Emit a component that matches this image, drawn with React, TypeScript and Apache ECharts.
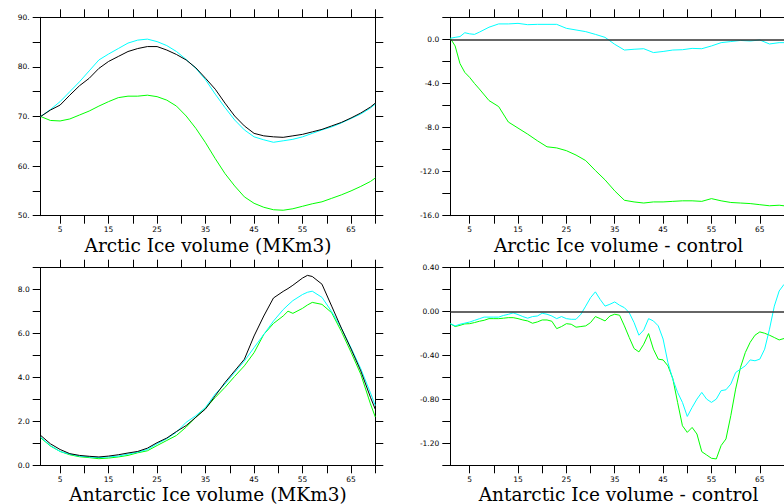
import React, { useEffect, useRef } from "react";
import * as echarts from "echarts";

// ---------- data ----------
const xTickValues = [5, 10, 15, 20, 25, 30, 35, 40, 45, 50, 55, 60, 65, 70];
const xLabelValues = [5, 15, 25, 35, 45, 55, 65];

const arcticX = [1, 3, 5, 7, 9, 11, 13, 15, 17, 19, 21, 23, 25, 27, 29, 31, 33, 35, 37, 39, 41, 43, 45, 47, 49, 51, 53, 55, 57, 59, 61, 63, 65, 67, 69, 70];
const arcticBlack = [70.0, 71.3, 72.3, 74.3, 76.2, 77.7, 79.7, 81.1, 82.1, 83.1, 83.7, 84.1, 84.1, 83.4, 82.5, 81.4, 79.8, 77.7, 75.5, 72.7, 70.1, 68.1, 66.6, 66.1, 65.9, 65.8, 66.1, 66.4, 66.9, 67.4, 68.1, 68.8, 69.7, 70.7, 71.9, 72.7];
const arcticCyan = [70.0, 71.4, 73.0, 75.0, 77.0, 79.2, 81.4, 82.6, 83.7, 84.8, 85.4, 85.6, 85.1, 84.3, 83.1, 81.5, 79.7, 77.4, 74.5, 71.8, 69.3, 67.3, 65.9, 65.3, 64.8, 65.1, 65.4, 65.9, 66.6, 67.3, 67.9, 68.7, 69.6, 70.5, 71.7, 72.5];
const arcticGreen = [70.0, 69.2, 69.1, 69.5, 70.3, 71.1, 72.1, 73.0, 73.8, 74.1, 74.1, 74.3, 74.0, 73.3, 72.1, 70.1, 67.6, 64.7, 61.5, 58.5, 56.0, 53.8, 52.5, 51.7, 51.2, 51.1, 51.4, 51.9, 52.4, 52.8, 53.5, 54.2, 55.0, 55.9, 56.9, 57.6];

const arcticDiffX = [1, 2, 3, 4, 5, 6, 7, 9, 11, 13, 15, 17, 19, 21, 23, 25, 27, 29, 31, 33, 35, 37, 39, 41, 43, 45, 47, 49, 51, 53, 55, 57, 59, 61, 63, 65, 67, 69, 70];
const arcticDiffCyan = [0.1, 0.18, 0.25, 0.6, 0.5, 0.45, 0.65, 1.1, 1.4, 1.4, 1.45, 1.33, 1.36, 1.36, 1.36, 1.0, 0.85, 0.7, 0.45, 0.18, -0.45, -0.97, -0.9, -0.85, -1.2, -1.1, -0.97, -0.94, -0.82, -0.85, -0.6, -0.3, -0.2, -0.1, -0.15, -0.06, -0.42, -0.3, -0.3];
const arcticDiffGreen = [0.1, -0.6, -2.2, -3.0, -3.45, -4.0, -4.5, -5.55, -6.1, -7.5, -8.05, -8.6, -9.2, -9.75, -9.85, -10.1, -10.5, -11.0, -11.9, -12.75, -13.75, -14.6, -14.75, -14.85, -14.75, -14.75, -14.7, -14.65, -14.65, -14.7, -14.45, -14.65, -14.8, -14.85, -14.9, -15.0, -15.1, -15.05, -15.1];

const antX = [1, 3, 5, 7, 9, 11, 13, 15, 17, 19, 21, 23, 25, 27, 29, 31, 33, 35, 37, 39, 41, 43, 45, 47, 49, 51, 52, 53, 55, 56, 57, 59, 61, 63, 65, 67, 69, 70];
const antBlack = [1.36, 0.98, 0.72, 0.53, 0.45, 0.41, 0.38, 0.42, 0.48, 0.56, 0.63, 0.78, 1.03, 1.24, 1.54, 1.81, 2.19, 2.57, 3.17, 3.77, 4.3, 4.83, 5.89, 6.8, 7.62, 7.92, 8.05, 8.2, 8.53, 8.65, 8.6, 8.25, 7.25, 6.25, 5.3, 4.3, 3.1, 2.55];
const antCyan = [1.28, 0.9, 0.63, 0.51, 0.42, 0.38, 0.35, 0.38, 0.42, 0.51, 0.6, 0.72, 0.98, 1.21, 1.51, 1.96, 2.26, 2.64, 3.25, 3.7, 4.23, 4.75, 5.36, 5.96, 6.57, 7.09, 7.3, 7.5, 7.78, 7.88, 7.93, 7.65, 7.0, 6.25, 5.35, 4.4, 3.3, 2.72];
const antGreen = [1.25, 0.88, 0.63, 0.48, 0.39, 0.35, 0.3, 0.33, 0.38, 0.45, 0.57, 0.66, 0.9, 1.13, 1.36, 1.74, 2.19, 2.6, 3.09, 3.55, 4.05, 4.53, 5.13, 5.96, 6.46, 6.8, 7.02, 6.92, 7.15, 7.3, 7.42, 7.33, 6.95, 6.1, 5.15, 4.15, 2.8, 2.2];

const antDiffX = [1, 2, 3, 4, 5, 6, 7, 8, 9, 10, 11, 12, 13, 14, 15, 16, 17, 18, 19, 20, 21, 22, 23, 24, 25, 26, 27, 28, 29, 30, 31, 32, 33, 34, 35, 36, 37, 38, 39, 40, 41, 42, 43, 44, 45, 46, 47, 48, 49, 50, 51, 52, 53, 54, 55, 56, 57, 58, 59, 60, 61, 62, 63, 64, 65, 66, 67, 68, 69, 70];
const antDiffCyan = [-0.11, -0.13, -0.115, -0.105, -0.095, -0.08, -0.065, -0.05, -0.05, -0.05, -0.05, -0.035, -0.025, -0.012, -0.027, -0.045, -0.06, -0.045, -0.04, -0.015, -0.024, -0.04, -0.064, -0.045, -0.064, -0.07, -0.07, -0.024, 0.05, 0.127, 0.18, 0.11, 0.05, 0.067, 0.088, 0.058, 0.036, -0.01, -0.1, -0.215, -0.167, -0.064, -0.085, -0.13, -0.25, -0.464, -0.615, -0.736, -0.827, -0.955, -0.873, -0.797, -0.736, -0.797, -0.827, -0.797, -0.72, -0.712, -0.66, -0.555, -0.524, -0.494, -0.44, -0.448, -0.433, -0.342, -0.16, 0.05, 0.188, 0.248];
const antDiffGreen = [-0.11, -0.136, -0.125, -0.112, -0.11, -0.1, -0.088, -0.079, -0.064, -0.064, -0.064, -0.06, -0.055, -0.055, -0.064, -0.076, -0.085, -0.106, -0.094, -0.076, -0.076, -0.088, -0.155, -0.136, -0.11, -0.115, -0.142, -0.136, -0.13, -0.1, -0.045, -0.064, -0.085, -0.04, -0.024, -0.033, -0.13, -0.236, -0.336, -0.367, -0.297, -0.2, -0.342, -0.433, -0.44, -0.494, -0.609, -0.827, -1.04, -1.1, -1.055, -1.115, -1.276, -1.306, -1.336, -1.342, -1.22, -1.16, -0.948, -0.706, -0.509, -0.373, -0.28, -0.215, -0.185, -0.197, -0.215, -0.236, -0.258, -0.245];

const titles = [
  "Arctic Ice volume (MKm3)",
  "Arctic Ice volume - control",
  "Antarctic Ice volume (MKm3)",
  "Antarctic Ice volume - control",
];

// ---------- layout ----------
const grids = [
  { left: 40.7, top: 17.3, width: 334.6, height: 198.4 },
  { left: 450.3, top: 17.3, width: 336.5, height: 198.4 },
  { left: 40.7, top: 267.7, width: 334.6, height: 197.6 },
  { left: 450.3, top: 267.7, width: 336.5, height: 197.6 },
];

const BLACK = "#000000";
const CYAN = "#00ffff";
const GREEN = "#00ff00";
const TICK_FONT = "DejaVu Sans";
const TICK_SIZE = 7.5;

const pair = (xs: number[], ys: number[]) => xs.map((x, i) => [x, ys[i]]);

const yCfg = [
  { min: 50, max: 90, interval: 5, fmt: (v: number) => (Math.round(v) % 10 === 0 ? `${Math.round(v)}.` : "") },
  { min: -16, max: 2, interval: 2, fmt: (v: number) => (Math.round(v) % 4 === 0 ? (Math.abs(v) < 1e-9 ? 0 : v).toFixed(1) : "") },
  { min: 0, max: 9, interval: 1, fmt: (v: number) => (Math.round(v) % 2 === 0 ? v.toFixed(1) : "") },
  {
    min: -1.4,
    max: 0.4,
    interval: 0.2,
    fmt: (v: number) => {
      const r = Math.round(v * 10);
      return r % 4 === 0 ? (r === 0 ? 0 : r / 10).toFixed(2) : "";
    },
  },
];

function buildOption() {
  const xAxis: any[] = [];
  const yAxis: any[] = [];
  const graphic: any[] = [];
  grids.forEach((g, i) => {
    const axisLine = { show: true, onZero: false, lineStyle: { color: BLACK, width: 1 } };
    const tick = { show: true, inside: false, length: 8, lineStyle: { color: BLACK, width: 1 } };
    xAxis.push({
      type: "value", gridIndex: i, min: 1, max: 70, position: "bottom",
      axisLine, axisTick: { ...tick, customValues: xTickValues },
      axisLabel: { show: true, customValues: xLabelValues, margin: 9.5, fontSize: TICK_SIZE, lineHeight: 8.7, fontFamily: TICK_FONT, color: BLACK },
      splitLine: { show: false },
    });
    xAxis.push({
      type: "value", gridIndex: i, min: 1, max: 70, position: "top",
      axisLine, axisTick: { ...tick, customValues: xTickValues },
      axisLabel: { show: false },
      splitLine: { show: false },
    });
    const c = yCfg[i];
    yAxis.push({
      type: "value", gridIndex: i, min: c.min, max: c.max, interval: c.interval, position: "left",
      axisLine, axisTick: tick,
      axisLabel: { show: true, interval: 0, margin: 11, fontSize: TICK_SIZE, fontFamily: TICK_FONT, color: BLACK, formatter: c.fmt, showMinLabel: true, showMaxLabel: true },
      splitLine: { show: false },
    });
    yAxis.push({
      type: "value", gridIndex: i, min: c.min, max: c.max, interval: c.interval, position: "right",
      axisLine, axisTick: tick,
      axisLabel: { show: false },
      splitLine: { show: false },
    });
    graphic.push({
      type: "text",
      x: g.left + g.width / 2,
      y: g.top + g.height + 29.4,
      style: {
        text: titles[i],
        fontSize: 18.5,
        lineHeight: 14,
        fontFamily: "DejaVu Serif",
        fill: BLACK,
        textAlign: "center",
        textVerticalAlign: "middle",
      },
    });
  });

  const line = (i: number, xs: number[], ys: number[], color: string, extra: any = {}) => ({
    type: "line",
    xAxisIndex: 2 * i,
    yAxisIndex: 2 * i,
    data: pair(xs, ys),
    showSymbol: false,
    symbol: "none",
    lineStyle: { color, width: 1 },
    itemStyle: { color },
    silent: true,
    ...extra,
  });

  const zeroLine = {
    markLine: {
      silent: true,
      symbol: ["none", "none"],
      label: { show: false },
      lineStyle: { color: "#333333", width: 1.5, type: "solid" },
      data: [{ yAxis: 0 }],
    },
  };

  const series = [
    line(0, arcticX, arcticGreen, GREEN),
    line(0, arcticX, arcticCyan, CYAN),
    line(0, arcticX, arcticBlack, BLACK),
    line(1, arcticDiffX, arcticDiffGreen, GREEN, zeroLine),
    line(1, arcticDiffX, arcticDiffCyan, CYAN),
    line(2, antX, antGreen, GREEN),
    line(2, antX, antCyan, CYAN),
    line(2, antX, antBlack, BLACK),
    line(3, antDiffX, antDiffGreen, GREEN, zeroLine),
    line(3, antDiffX, antDiffCyan, CYAN),
  ];

  return {
    animation: false,
    backgroundColor: "#ffffff",
    grid: grids.map((g) => ({ ...g, containLabel: false, show: false })),
    xAxis,
    yAxis,
    graphic,
    series,
  };
}

export default function App() {
  const ref = useRef<HTMLDivElement>(null);
  useEffect(() => {
    if (!ref.current) return;
    const chart = echarts.init(ref.current, null, { renderer: "svg" });
    chart.setOption(buildOption() as any);
    return () => chart.dispose();
  }, []);
  return (
    <div style={{ position: "absolute", left: 0, top: 0, width: 784, height: 504, overflow: "hidden", background: "#fff" }}>
      <div ref={ref} style={{ width: 784, height: 504 }} />
    </div>
  );
}
